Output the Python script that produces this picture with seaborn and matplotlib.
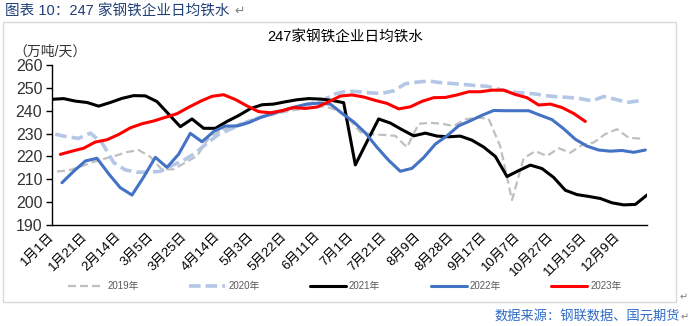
import numpy as np
import pandas as pd
import matplotlib
matplotlib.use("Agg")
import matplotlib.pyplot as plt
import seaborn as sns
from matplotlib.lines import Line2D
from matplotlib.patches import Rectangle
from matplotlib.transforms import ScaledTranslation

# ---------------- data ----------------
tick_labels = ["1月1日", "1月21日", "2月14日", "3月5日", "3月25日", "4月14日",
               "5月3日", "5月22日", "6月11日", "7月1日", "7月21日", "8月9日",
               "8月28日", "9月17日", "10月7日", "10月27日", "11月15日", "12月9日"]
years = ["2019年", "2020年", "2021年", "2022年", "2023年"]
# day-of-year of each year's first weekly reading
first_day = [3, 2, 0, 6, 5]

v2019 = [213.4, 213.9, 215.5, 217.4, 218.9, 220.3, 221.9, 222.8, 219.8, 214.2,
         214.4, 217.3, 220.2, 228.0, 231.0, 233.1, 234.9, 236.6, 237.7, 238.9,
         240.0, 240.8, 241.5, 241.9, 240.2, 236.5, 230.7, 229.7, 229.4, 229.0,
         224.0, 234.3, 234.7, 234.3, 233.3, 236.2, 237.0, 236.5, 224.3, 200.9,
         219.2, 222.3, 220.2, 223.6, 221.6, 225.0, 226.1, 229.8, 231.9, 228.2,
         227.8]
v2020 = [229.7, 228.6, 227.9, 230.2, 226.0, 217.3, 214.1, 213.1, 213.1, 213.5,
         216.0, 218.3, 221.5, 225.8, 229.6, 231.9, 234.1, 236.1, 237.9, 239.5,
         240.8, 242.0, 243.2, 244.8, 247.4, 248.6, 248.3, 247.8, 247.6, 248.7,
         251.8, 252.5, 253.0, 252.3, 251.9, 251.5, 251.0, 250.7, 249.4, 248.3,
         247.8, 247.4, 246.6, 246.1, 245.8, 245.3, 244.3, 246.2, 245.0, 243.6,
         244.3]
v2021 = [245.0, 245.3, 244.2, 243.6, 242.0, 243.6, 245.4, 246.6, 246.5, 244.0,
         238.5, 233.0, 236.4, 232.3, 232.3, 235.3, 237.9, 240.9, 242.6, 242.9,
         243.9, 244.8, 245.3, 245.1, 244.5, 243.5, 216.3, 226.5, 236.4, 234.6,
         231.7, 229.0, 230.2, 228.9, 228.6, 228.9, 227.1, 224.1, 220.0, 211.2,
         213.8, 216.2, 214.7, 210.8, 205.2, 203.3, 202.5, 201.6, 199.7, 198.8,
         199.0, 203.1]
v2022 = [208.5, 213.5, 218.0, 219.2, 212.4, 206.3, 203.1, 211.0, 219.6, 215.2,
         221.0, 230.1, 226.4, 230.9, 233.3, 233.3, 234.8, 237.0, 238.6, 240.2,
         241.7, 242.9, 243.3, 242.9, 238.9, 235.1, 230.3, 224.0, 218.3, 213.5,
         214.8, 219.5, 225.4, 229.0, 233.4, 235.6, 238.0, 240.1, 240.0, 240.0,
         240.0, 238.0, 236.1, 232.1, 227.5, 224.5, 222.8, 222.3, 222.6, 221.8,
         222.8]
v2023 = [220.9, 222.3, 223.6, 226.3, 227.3, 229.6, 232.5, 234.3, 235.5, 237.1,
         238.7, 241.5, 244.1, 246.3, 247.0, 244.9, 242.1, 239.6, 239.1, 240.0,
         241.4, 241.0, 241.6, 243.9, 246.4, 246.9, 246.0, 244.5, 243.2, 240.8,
         241.7, 244.1, 245.7, 245.8, 246.9, 248.3, 248.3, 249.0, 249.0, 247.1,
         245.7, 242.5, 242.9, 241.4, 238.8, 235.3]
series_values = [v2019, v2020, v2021, v2022, v2023]

rows = []
for yr, d0, vals in zip(years, first_day, series_values):
    for i, v in enumerate(vals):
        rows.append({"year": yr, "day": d0 + 7 * i, "value": v})
df = pd.DataFrame(rows)

# ---------------- style ----------------
sns.set_theme(style="white")
plt.rcParams["font.family"] = ["Liberation Sans", "Noto Sans CJK SC", "DejaVu Sans"]

styles = {
    "2019年": dict(color="#BFBFBF", lw=1.6, ls=(0, (3.6, 1.8))),
    "2020年": dict(color="#B4C7E7", lw=2.6, ls=(0, (3.2, 1.4))),
    "2021年": dict(color="#000000", lw=2.2, ls="-"),
    "2022年": dict(color="#4472C4", lw=2.2, ls="-"),
    "2023年": dict(color="#FF0000", lw=2.2, ls="-"),
}

W, H = 690, 326
fig = plt.figure(figsize=(W / 100, H / 100), dpi=100)
fig.patch.set_facecolor("white")
ax = fig.add_axes([52 / W, 1 - 225 / H, 595 / W, 160 / H])

for yr in years:
    st = styles[yr]
    sns.lineplot(data=df[df["year"] == yr], x="day", y="value", ax=ax,
                 color=st["color"], linewidth=st["lw"], linestyle=st["ls"],
                 sort=False, estimator=None, legend=False)

ax.set_xlim(0, 357)
ax.set_ylim(190, 260)
ax.set_yticks(np.arange(190, 261, 10))
ax.set_xticks(np.arange(len(tick_labels)) * 20)
ax.set_xticklabels(tick_labels, rotation=45, ha="right", va="center",
                   rotation_mode="anchor", fontsize=9.5, color="#000000")
for lab in ax.get_xticklabels():
    lab.set_transform(lab.get_transform() + ScaledTranslation(-3 / 100, 0, fig.dpi_scale_trans))
ax.tick_params(axis="x", length=0, pad=7)
ax.tick_params(axis="y", length=4, width=1, color="#000000", direction="out",
               labelsize=11.5, labelcolor="#333333", pad=3, left=True)
ax.set_xlabel("")
ax.set_ylabel("")
for s in ["top", "right"]:
    ax.spines[s].set_visible(False)
for s in ["left", "bottom"]:
    ax.spines[s].set_color("#000000")
    ax.spines[s].set_linewidth(1.0)
ax.grid(False)

# titles / texts
fig.text(345 / W, 1 - 37 / H, "247家钢铁企业日均铁水", ha="center", va="center",
         fontsize=10.5, color="#000000")
fig.text(13 / W, 1 - 52 / H, "（万吨/天）", ha="left", va="center",
         fontsize=10, color="#333333")
fig.text(5 / W, 1 - 11 / H, "图表 10：247 家钢铁企业日均铁水", ha="left", va="center",
         fontsize=10.5, color="#1F3F77")
fig.text(234 / W, 1 - 11 / H, "↵", ha="left", va="center", fontsize=9,
         color="#808080", family=["DejaVu Sans"])
fig.text(680 / W, 1 - 317 / H, "数据来源：钢联数据、国元期货", ha="right", va="center",
         fontsize=9.5, color="#2E6BC6")
fig.text(681 / W, 1 - 317 / H, "↵", ha="left", va="center", fontsize=7,
         color="#808080", family=["DejaVu Sans"])
fig.text(680 / W, 1 - 297 / H, "↵", ha="left", va="center", fontsize=7,
         color="#808080", family=["DejaVu Sans"])

# outer frame
fig.patches.append(Rectangle((3 / W, 1 - 302 / H), 673 / W, 280 / H,
                             transform=fig.transFigure, fill=False,
                             edgecolor="#D9D9D9", linewidth=1.0))

# legend
handles = [Line2D([], [], color=styles[y]["color"], lw=styles[y]["lw"],
                  ls=styles[y]["ls"]) for y in years]
leg = fig.legend(handles, years, loc="center", bbox_to_anchor=(345 / W, 1 - 286 / H),
                 ncol=5, frameon=False, fontsize=7, handlelength=3.7,
                 columnspacing=5.2, handletextpad=0.3)
for t in leg.get_texts():
    t.set_color("#595959")

fig.savefig("out.png", dpi=100, facecolor="white")
